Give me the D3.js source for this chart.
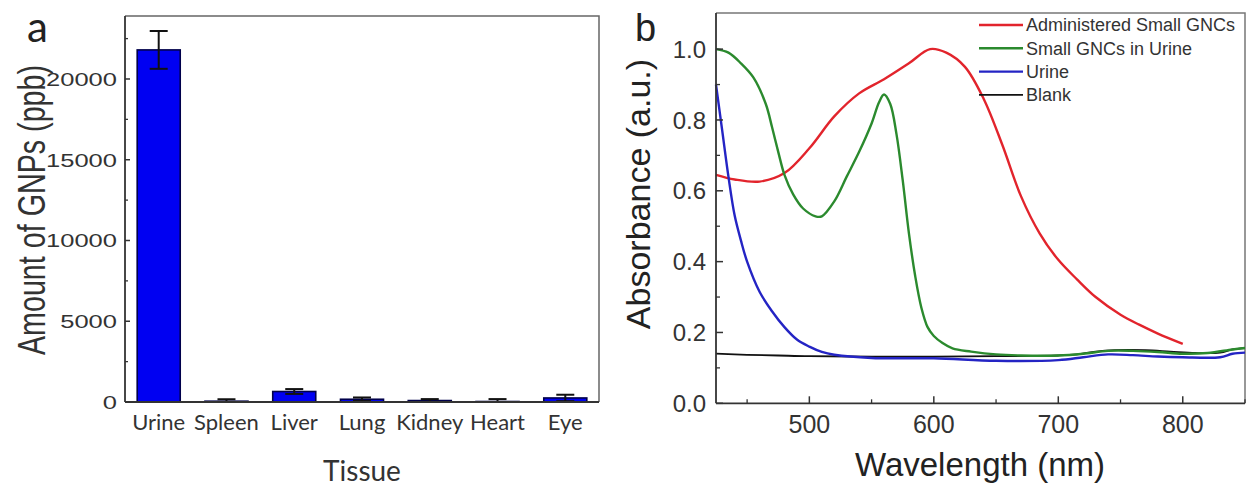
<!DOCTYPE html>
<html><head><meta charset="utf-8">
<script src="https://cdn.jsdelivr.net/npm/d3@7"></script>
<style>body{margin:0;background:#fff}svg{display:block}</style></head>
<body><svg id="c" width="1247" height="489"></svg>
<script>
// ---------- Panel a data ----------
const tissues = ["Urine","Spleen","Liver","Lung","Kidney","Heart","Eye"];
const amounts = [21800, 50, 650, 170, 90, 30, 250];
const amountErr = [1170, 120, 150, 110, 90, 150, 200];
const aTicks = [0, 5000, 10000, 15000, 20000];
const aMinorTicks = [2500, 7500, 12500, 17500, 22500];

// ---------- Panel b data ----------
const seriesNames = ["Administered Small GNCs", "Small GNCs in Urine", "Urine", "Blank"];
const wlRed  = [425,440,460,480,500,520,540,560,580,597,610,625,640,655,670,685,700,715,730,750,765,780,800];
const absRed = [0.645,0.632,0.626,0.65,0.72,0.81,0.875,0.915,0.96,1.0,0.99,0.95,0.86,0.73,0.585,0.48,0.405,0.35,0.30,0.25,0.222,0.197,0.168];
const wlGreen  = [425,435,445,455,465,470,475,480,487,495,505,510,520,530,540,550,556,560,565,570,575,580,585,590,595,600,607,615,630,650,670,700,720,740,760,780,800,820,840,850];
const absGreen = [1.0,0.99,0.96,0.92,0.845,0.78,0.71,0.645,0.59,0.55,0.528,0.528,0.57,0.64,0.71,0.79,0.85,0.872,0.845,0.76,0.63,0.48,0.36,0.27,0.215,0.19,0.17,0.155,0.146,0.138,0.135,0.135,0.14,0.148,0.148,0.145,0.14,0.142,0.152,0.156];
const wlBlue  = [425,430,435,440,445,450,460,470,480,490,500,510,520,550,600,650,700,720,740,760,780,800,830,840,850];
const absBlue = [0.90,0.77,0.64,0.53,0.46,0.40,0.315,0.26,0.215,0.18,0.16,0.145,0.137,0.128,0.127,0.12,0.122,0.13,0.138,0.136,0.132,0.13,0.13,0.14,0.143];
const wlBlack  = [425,450,475,500,550,600,650,700,715,730,745,770,790,810,830,840,850];
const absBlack = [0.14,0.137,0.135,0.133,0.132,0.132,0.133,0.135,0.138,0.146,0.15,0.15,0.146,0.142,0.143,0.152,0.156];
const bXTicks = [500, 600, 700, 800];
const bXMinor = [450, 550, 650, 750, 850];
const bYTicks = [0.0, 0.2, 0.4, 0.6, 0.8, 1.0];
const bYMinor = [0.1, 0.3, 0.5, 0.7, 0.9];

const svg = d3.select("#c");
const SX = 1.33; // horizontal stretch of panel a text

// ================= Panel a =================
const aL = 125, aR = 599, aT = 16, aB = 402;
const xa = d3.scaleBand().domain(tissues).range([aL, aR]).paddingInner(0.365).paddingOuter(0.18);
const ya = d3.scaleLinear().domain([0, 23900]).range([aB, aT]);
const ga = svg.append("g");

ga.append("path").attr("d", `M${aL},${aT}H${aR}V${aB}`).attr("fill","none").attr("stroke","#666").attr("stroke-width",1.5);
ga.selectAll("rect.bar").data(tissues).join("rect")
  .attr("x", d => xa(d)).attr("width", xa.bandwidth())
  .attr("y", (d,i) => ya(amounts[i])).attr("height", (d,i) => ya(0) - ya(amounts[i]))
  .attr("fill", "#0000f2").attr("stroke", "#00004a").attr("stroke-width", 1.6);
tissues.forEach((t,i) => {
  const cx = xa(t) + xa.bandwidth()/2;
  const hi = ya(amounts[i] + amountErr[i]), lo = ya(Math.max(0, amounts[i] - amountErr[i]));
  ga.append("line").attr("x1",cx).attr("x2",cx).attr("y1",hi).attr("y2",lo).attr("stroke","#111").attr("stroke-width",2);
  ga.append("line").attr("x1",cx-9).attr("x2",cx+9).attr("y1",hi).attr("y2",hi).attr("stroke","#111").attr("stroke-width",2);
  ga.append("line").attr("x1",cx-9).attr("x2",cx+9).attr("y1",lo).attr("y2",lo).attr("stroke","#111").attr("stroke-width",2);
});
ga.append("line").attr("x1",aL).attr("x2",aL).attr("y1",aT).attr("y2",aB).attr("stroke","#333").attr("stroke-width",1.8);
ga.append("line").attr("x1",aL).attr("x2",aR).attr("y1",aB).attr("y2",aB).attr("stroke","#333").attr("stroke-width",1.8);
aTicks.forEach(v => {
  ga.append("line").attr("x1",aL).attr("x2",aL+5).attr("y1",ya(v)).attr("y2",ya(v)).attr("stroke","#333").attr("stroke-width",1.5);
  ga.append("text").attr("transform",`translate(${aL-8},${ya(v)}) scale(${SX},1)`)
    .attr("text-anchor","end").attr("dy","0.36em")
    .attr("font-family","Liberation Sans, Arial, sans-serif").attr("font-size",19.2).attr("fill","#333").text(v);
});
aMinorTicks.forEach(v => {
  ga.append("line").attr("x1",aL).attr("x2",aL+3).attr("y1",ya(v)).attr("y2",ya(v)).attr("stroke","#333").attr("stroke-width",1.3);
});
tissues.forEach(t => {
  ga.append("text").attr("x", xa(t)+xa.bandwidth()/2).attr("y", 430).attr("text-anchor","middle")
    .attr("font-family","Lato, sans-serif").attr("font-size",22).attr("fill","#333").text(t);
});
ga.append("text").attr("x", 362).attr("y", 481).attr("text-anchor","middle")
  .attr("font-family","Lato, sans-serif").attr("font-size",28).attr("fill","#333").text("Tissue");
ga.append("text").attr("transform",`translate(45,210) scale(${SX},1) rotate(-90)`).attr("text-anchor","middle")
  .attr("font-family","Liberation Sans, Arial, sans-serif").attr("font-size",28.7).attr("fill","#333").text("Amount of GNPs (ppb)");
ga.append("text").attr("x",27).attr("y",42).attr("font-family","Lato, sans-serif").attr("font-size",42).attr("fill","#222").text("a");

// ================= Panel b =================
const bL = 716, bR = 1245, bT = 13, bB = 403.3;
const xb = d3.scaleLinear().domain([425, 850]).range([bL, bR]);
const yb = d3.scaleLinear().domain([0, 1.102]).range([bB, bT]);
const gb = svg.append("g");
gb.append("path").attr("d", `M${bL},${bT}H${bR}V${bB}`).attr("fill","none").attr("stroke","#777").attr("stroke-width",1.5);

const series = [
  {name: seriesNames[0], wl: wlRed, ab: absRed, color: "#e2242c", w: 2.4},
  {name: seriesNames[1], wl: wlGreen, ab: absGreen, color: "#2b8a2e", w: 2.4},
  {name: seriesNames[2], wl: wlBlue, ab: absBlue, color: "#2424c4", w: 2.4},
  {name: seriesNames[3], wl: wlBlack, ab: absBlack, color: "#111111", w: 1.8},
];
const line = d3.line().x(d => xb(d[0])).y(d => yb(d[1])).curve(d3.curveCatmullRom.alpha(0.5));
[3,0,1,2].forEach(k => {
  const s = series[k];
  gb.append("path").attr("d", line(s.wl.map((w,i) => [w, s.ab[i]])))
    .attr("fill","none").attr("stroke", s.color).attr("stroke-width", s.w).attr("stroke-linejoin","round");
});
gb.append("line").attr("x1",bL).attr("x2",bL).attr("y1",bT).attr("y2",bB).attr("stroke","#333").attr("stroke-width",1.8);
gb.append("line").attr("x1",bL).attr("x2",bR).attr("y1",bB).attr("y2",bB).attr("stroke","#333").attr("stroke-width",1.8);
bYTicks.forEach(v => {
  gb.append("line").attr("x1",bL).attr("x2",bL+7).attr("y1",yb(v)).attr("y2",yb(v)).attr("stroke","#333").attr("stroke-width",1.5);
  gb.append("text").attr("x",bL-10).attr("y",yb(v)).attr("dy","0.36em").attr("text-anchor","end")
    .attr("font-family","Liberation Sans, Arial, sans-serif").attr("font-size",24).attr("fill","#333").text(v.toFixed(1));
});
bYMinor.forEach(v => {
  gb.append("line").attr("x1",bL).attr("x2",bL+4).attr("y1",yb(v)).attr("y2",yb(v)).attr("stroke","#333").attr("stroke-width",1.3);
});
bXTicks.forEach(v => {
  gb.append("line").attr("x1",xb(v)).attr("x2",xb(v)).attr("y1",bB).attr("y2",bB-7).attr("stroke","#333").attr("stroke-width",1.5);
  gb.append("text").attr("x",xb(v)).attr("y",433).attr("text-anchor","middle")
    .attr("font-family","Liberation Sans, Arial, sans-serif").attr("font-size",25).attr("fill","#333").text(v);
});
bXMinor.forEach(v => {
  gb.append("line").attr("x1",xb(v)).attr("x2",xb(v)).attr("y1",bB).attr("y2",bB-4).attr("stroke","#333").attr("stroke-width",1.3);
});
gb.append("text").attr("x",980).attr("y",476).attr("text-anchor","middle")
  .attr("font-family","Liberation Sans, Arial, sans-serif").attr("font-size",33).attr("fill","#222").text("Wavelength (nm)");
gb.append("text").attr("transform","translate(650,194) rotate(-90)").attr("text-anchor","middle")
  .attr("font-family","Liberation Sans, Arial, sans-serif").attr("font-size",34).attr("fill","#222").text("Absorbance (a.u.)");
gb.append("text").attr("x",635).attr("y",41).attr("font-family","Liberation Sans, Arial, sans-serif").attr("font-size",38).attr("fill","#222").text("b");
series.forEach((s,i) => {
  const ly = 25 + i*23.3;
  gb.append("line").attr("x1",979).attr("x2",1023).attr("y1",ly).attr("y2",ly).attr("stroke",s.color).attr("stroke-width",s.w);
  gb.append("text").attr("x",1026).attr("y",ly+6.3).attr("font-family","Liberation Sans, Arial, sans-serif")
    .attr("font-size",18).attr("fill","#333").text(s.name);
});
</script></body></html>
